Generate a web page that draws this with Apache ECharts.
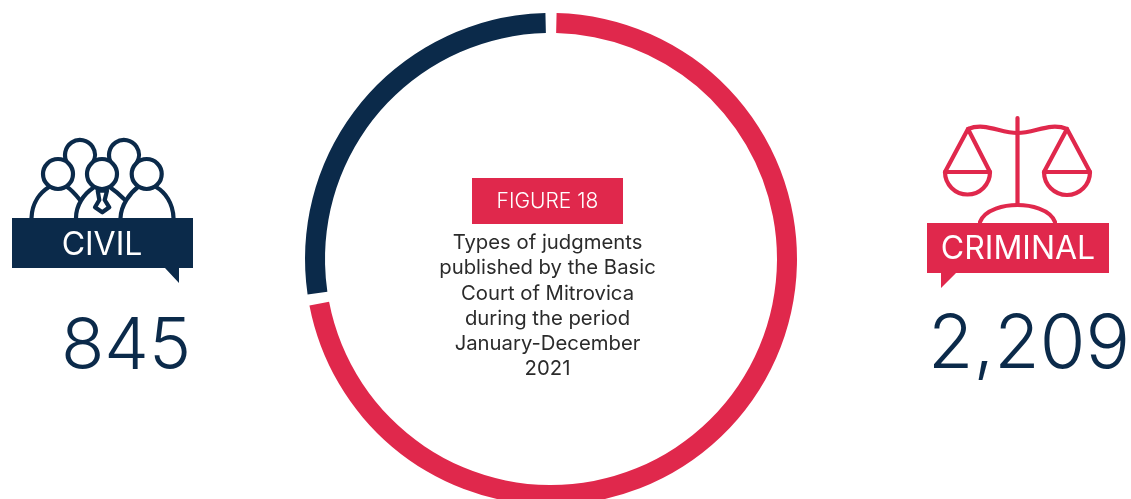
<!DOCTYPE html>
<html><head><meta charset="utf-8">
<style>html,body{margin:0;padding:0;background:#fff}#c{width:1131px;height:499px}</style>
<script src="https://cdn.jsdelivr.net/npm/echarts@6/dist/echarts.min.js"></script>
</head><body><div id="c"></div>
<script>
const categories = ['CRIMINAL', 'CIVIL'];
const values = [2209, 845];
const figureLabel = 'FIGURE 18';
const caption = ['Types of judgments', 'published by the Basic', 'Court of Mitrovica', 'during the period', 'January-December', '2021'];
const NAVY = '#0b2a4a', RED = '#e0284c', FONT = 'Inter';
const chart = echarts.init(document.getElementById('c'), null, {renderer: 'canvas'});
const LW = 4.2;
const st = c => ({fill: 'none', stroke: c, lineWidth: LW, lineCap: 'round', lineJoin: 'round'});
const bez = (x1, y1, cpx1, cpy1, cpx2, cpy2, x2, y2, c) => ({type: 'bezierCurve', z: 5, shape: {x1, y1, cpx1, cpy1, cpx2, cpy2, x2, y2}, style: st(c)});
const arc = (cx, cy, r, startAngle, endAngle, c) => ({type: 'arc', z: 5, shape: {cx, cy, r, startAngle, endAngle, clockwise: true}, style: st(c)});
const closedLine = (pts, c) => ({type: 'polygon', z: 5, shape: {points: pts}, style: st(c)});
const head = (x, y) => ({type: 'circle', z: 6, shape: {cx: x, cy: y, r: 15}, style: {fill: '#fff', stroke: NAVY, lineWidth: LW}});
const fillPoly = (pts, c) => ({type: 'polygon', z: 7, shape: {points: pts}, style: {fill: c}});
const text = (t, x, y, size, color, weight) => ({type: 'text', z: 9, x, y, style: {text: t, fill: color, font: `${weight} ${size}px ${FONT}`, textAlign: 'center', textVerticalAlign: 'middle'}});
const fmt = v => v.toLocaleString('en-US');
const TAU = Math.PI * 2;
const elements = [
  // civil icon
  arc(80, 155, 15, 2.55, 0.57 + TAU, NAVY), arc(124, 155, 15, 2.55, 0.57 + TAU, NAVY),
  head(58, 174), head(102, 174), head(146.7, 174),
  bez(31.5, 218, 32, 202, 41, 192, 49, 187, NAVY), bez(67, 187, 72, 190, 76, 195, 80, 200, NAVY),
  bez(76, 218, 76, 205, 84, 194, 93, 188, NAVY), bez(111, 188, 114, 190, 119, 194, 124, 199, NAVY),
  bez(120.5, 218, 121, 205, 130, 193, 138, 187, NAVY), bez(156, 187, 165, 192, 173, 203, 173.5, 218, NAVY),
  closedLine([[97.7, 190.7], [107, 190.7], [104.7, 200], [109.3, 207.3], [102.3, 212.3], [95, 207.3], [99.3, 200]], NAVY),
  fillPoly([[12, 218], [193, 218], [193, 268], [179, 268], [179, 283], [165, 268], [12, 268]], NAVY),
  text(categories[1], 102, 245, 32, '#fff', 400),
  text(fmt(values[1]), 126, 348, 71, NAVY, 300),
  // criminal icon
  {type: 'line', z: 5, shape: {x1: 1017.5, y1: 118, x2: 1017.5, y2: 205}, style: st(RED)},
  bez(968, 129, 985, 122, 1000, 133, 1017.5, 133, RED), bez(1017.5, 133, 1035, 133, 1050, 122, 1067, 129, RED),
  closedLine([[968, 129], [945, 172], [990, 172]], RED), closedLine([[1067, 129], [1044, 172], [1090, 172]], RED),
  arc(967.5, 172, 22.5, 0, Math.PI, RED), arc(1067, 172, 23, 0, Math.PI, RED),
  bez(980, 222, 985, 209, 1005, 205, 1017.5, 205, RED), bez(1017.5, 205, 1030, 205, 1050, 209, 1055, 222, RED),
  fillPoly([[927, 223], [1109, 223], [1109, 273], [956, 273], [941, 288], [941, 273], [927, 273]], RED),
  text(categories[0], 1018, 249, 32, '#fff', 400),
  text(fmt(values[0]), 1029, 346, 74, NAVY, 300),
  // centre
  {type: 'rect', z: 7, shape: {x: 472, y: 178, width: 151, height: 46}, style: {fill: RED}},
  text(figureLabel, 547.5, 202, 21, '#fff', 300),
  ...caption.map((l, i) => text(l, 547.5, 243 + i * 25.2, 20.3, '#2b2b2b', 400))
];
chart.setOption({
  animation: false,
  backgroundColor: '#fff',
  graphic: {elements},
  series: [{
    type: 'pie', center: [551, 259], radius: [226, 246], startAngle: 90, padAngle: 2.6,
    silent: true, label: {show: false}, labelLine: {show: false},
    data: categories.map((name, i) => ({name, value: values[i], itemStyle: {color: i === 0 ? RED : NAVY}}))
  }]
});
</script></body></html>
